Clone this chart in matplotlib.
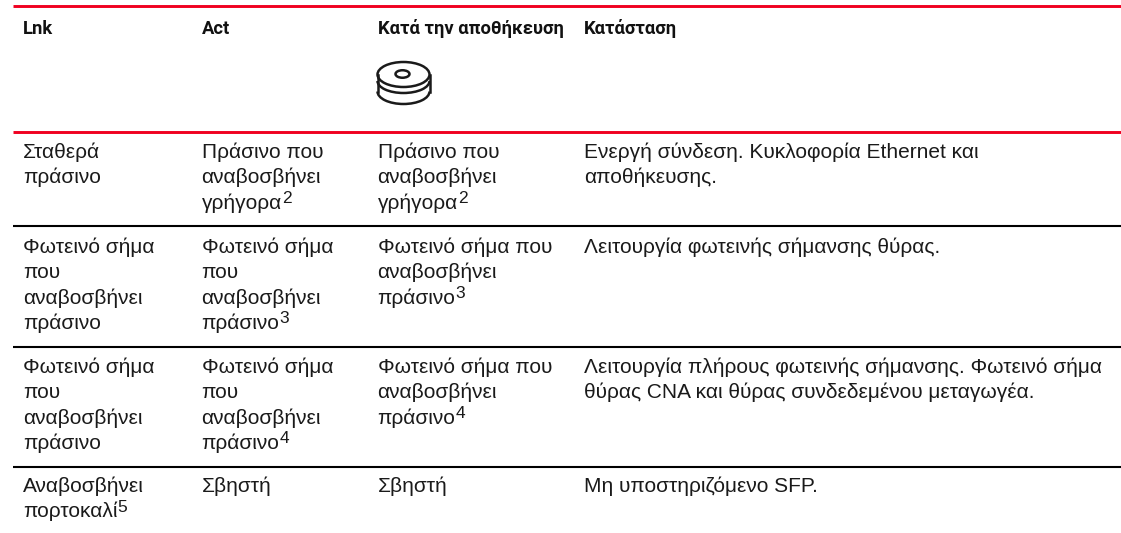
# -*- coding: utf-8 -*-
import matplotlib
matplotlib.use('Agg')
import matplotlib.pyplot as plt
from matplotlib.patches import Ellipse, Arc

headers = ['Lnk', 'Act', 'Κατά την αποθήκευση', 'Κατάσταση']

col_lnk = [
    'Σταθερά\nπράσινο',
    'Φωτεινό σήμα\nπου\nαναβοσβήνει\nπράσινο',
    'Φωτεινό σήμα\nπου\nαναβοσβήνει\nπράσινο',
    'Αναβοσβήνει\nπορτοκαλί',
]
col_act = [
    'Πράσινο που\nαναβοσβήνει\nγρήγορα',
    'Φωτεινό σήμα\nπου\nαναβοσβήνει\nπράσινο',
    'Φωτεινό σήμα\nπου\nαναβοσβήνει\nπράσινο',
    'Σβηστή',
]
col_store = [
    'Πράσινο που\nαναβοσβήνει\nγρήγορα',
    'Φωτεινό σήμα που\nαναβοσβήνει\nπράσινο',
    'Φωτεινό σήμα που\nαναβοσβήνει\nπράσινο',
    'Σβηστή',
]
col_state = [
    'Ενεργή σύνδεση. Κυκλοφορία Ethernet και\nαποθήκευσης.',
    'Λειτουργία φωτεινής σήμανσης θύρας.',
    'Λειτουργία πλήρους φωτεινής σήμανσης. Φωτεινό σήμα\nθύρας CNA και θύρας συνδεδεμένου μεταγωγέα.',
    'Μη υποστηριζόμενο SFP.',
]
# footnote mark at the end of each cell, '' if none
notes_lnk = ['', '', '', '5']
notes_act = ['2', '3', '4', '']
notes_store = ['2', '3', '4', '']
notes_state = ['', '', '', '']

# layout, in pixels of the 1121x533 page
col_x = [23, 201.5, 377.5, 584]
row_base = [158, 253, 373, 492]
line_step = 25.3
red_y = [6, 132]
black_y = [226, 347, 467]
body_size = 15.0
note_size = 12.5
body_font = ['Liberation Sans', 'DejaVu Sans']
head_font = ['Roboto', 'Liberation Sans', 'DejaVu Sans']

fig = plt.figure(figsize=(11.21, 5.33), dpi=100)
ax = fig.add_axes([0, 0, 1, 1])
ax.set_xlim(0, 1121)
ax.set_ylim(533, 0)
ax.axis('off')

for y in red_y:
    ax.plot([13, 1121], [y, y], color='#f00020', lw=2.1, solid_capstyle='butt')
for y in black_y:
    ax.plot([13, 1121], [y, y], color='black', lw=1.5, solid_capstyle='butt')

for x, h in zip(col_x, headers):
    ax.text(x, 34, h, family=head_font, fontsize=13.2, fontweight='bold', va='baseline', color='#111111')

# disk icon under the storage header
ink = dict(edgecolor='#1a1a1a', facecolor='none', lw=1.8)
ax.add_patch(Ellipse((403.5, 74.5), 52, 25, **ink))
ax.add_patch(Ellipse((402.5, 74), 14, 7.5, **ink))
ax.add_patch(Arc((403.5, 81), 52, 24, theta1=0, theta2=180, **ink))
ax.add_patch(Arc((403.5, 91.5), 52, 25, theta1=0, theta2=180, **ink))
ax.plot([377.5, 377.5], [74.5, 91.5], color='#1a1a1a', lw=1.8)
ax.plot([429.5, 429.5], [74.5, 91.5], color='#1a1a1a', lw=1.8)

fig.canvas.draw()
rend = fig.canvas.get_renderer()
inv = ax.transData.inverted()


def draw_cell(x, y, txt, note):
    lines = txt.split('\n')
    for i, line in enumerate(lines):
        t = ax.text(x, y + i * line_step, line, family=body_font, fontsize=body_size,
                    va='baseline', color='#1a1a1a')
        if note and i == len(lines) - 1:
            end = inv.transform(t.get_window_extent(rend).get_points())[1][0]
            ax.text(end, y + i * line_step - 5.5, note, family=body_font, fontsize=note_size,
                    va='baseline', color='#1a1a1a')


columns = [(col_lnk, notes_lnk), (col_act, notes_act), (col_store, notes_store), (col_state, notes_state)]
for x, (cells, notes) in zip(col_x, columns):
    for i in range(len(cells)):
        draw_cell(x, row_base[i], cells[i], notes[i])

fig.savefig('out.png', dpi=100, facecolor='white')
